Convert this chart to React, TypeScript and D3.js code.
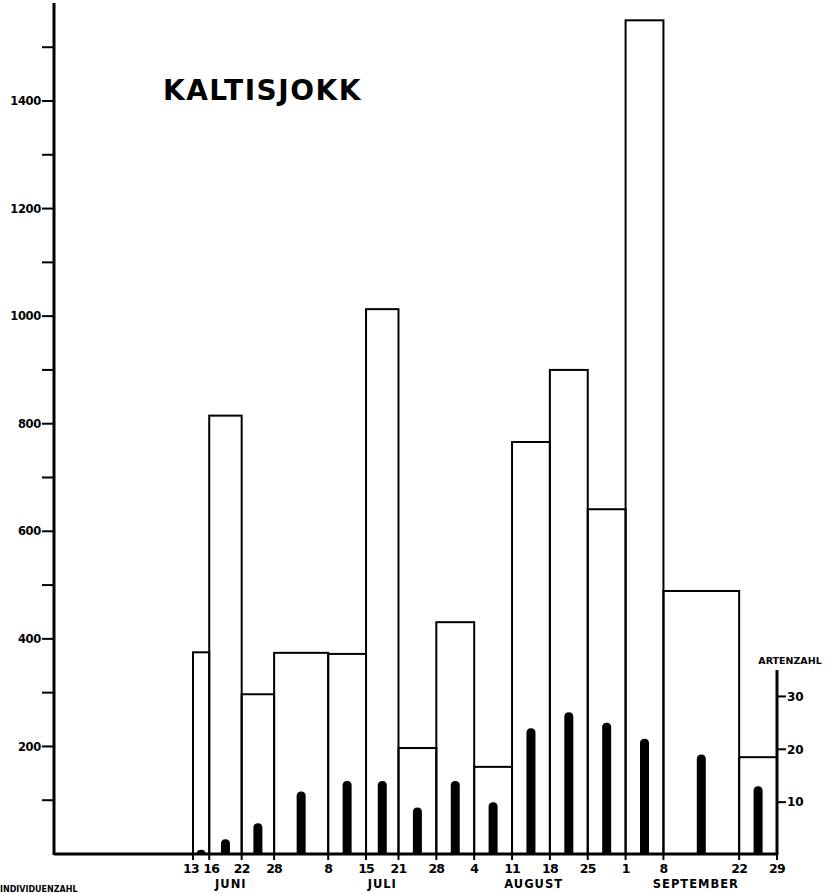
import React from 'react';
import * as d3 from 'd3';

// sampling dates (bar boundaries), year is arbitrary
const boundaries = ["06-13", "06-16", "06-22", "06-28", "07-08", "07-15", "07-21", "07-28",
    "08-04", "08-11", "08-18", "08-25", "09-01", "09-08", "09-22", "09-29"];
const tickLabels = ["13", "16", "22", "28", "8", "15", "21", "28", "4", "11", "18", "25", "1", "8", "22", "29"];
// individuals per period (open bars, left axis)
const individuals = [375, 815, 297, 374, 372, 1013, 197, 431, 162, 766, 900, 641, 1550, 489, 180];
// species per period (black bars, right axis)
const species = [1, 3, 6, 12, 14, 14, 9, 14, 10, 24, 27, 25, 22, 19, 13];
const months = ["JUNI", "JULI", "AUGUST", "SEPTEMBER"];
const monthAnchors = ["06-20", "07-18", "08-15", "09-14"];
const leftTicks = [100, 200, 300, 400, 500, 600, 700, 800, 900, 1000, 1100, 1200, 1300, 1400, 1500];
const rightTicks = [10, 20, 30];

const width = 839;
const height = 893;
const axisX = 54;
const baseY = 854;
const font = '"DejaVu Sans", sans-serif';

const parse = (s: string) => new Date(1960, +s.slice(0, 2) - 1, +s.slice(3, 5));

export default function App() {
    const x = d3.scaleTime()
        .domain([parse(boundaries[0]), parse(boundaries[boundaries.length - 1])])
        .range([193, 777]);
    const y = d3.scaleLinear().domain([0, 1400]).range([baseY, 101]);
    const yTop = 1582;
    const yR = d3.scaleLinear().domain([0, 35]).range([baseY + 1, 670]);
    const rightX = x(parse(boundaries[boundaries.length - 1]));

    const periods = individuals.map((v, i) => ({
        x0: x(parse(boundaries[i])),
        x1: x(parse(boundaries[i + 1])),
        ind: v,
        sp: species[i],
    }));

    const barW = 9;
    // black bar with a rounded top
    const blackPath = (cx: number, top: number) => {
        const r = barW / 2;
        const h = baseY - top;
        const p = d3.path();
        p.moveTo(cx - r, baseY);
        p.lineTo(cx - r, top + Math.min(r, h));
        p.quadraticCurveTo(cx - r, top, cx, top);
        p.quadraticCurveTo(cx + r, top, cx + r, top + Math.min(r, h));
        p.lineTo(cx + r, baseY);
        p.closePath();
        return p.toString();
    };

    return (
        <svg width={width} height={height} style={{position: 'absolute', left: 0, top: 0, background: '#fff'}}
             fontFamily={font}>
            <rect width={width} height={height} fill="#fff"/>

            {/* title */}
            <text x={163} y={100} fontSize={28} fontWeight="bold" letterSpacing={1.5}>KALTISJOKK</text>

            {/* open bars: individuals */}
            {periods.map((d, i) => (
                <rect key={'o' + i} x={d.x0} y={y(d.ind)} width={d.x1 - d.x0} height={baseY - y(d.ind)}
                      fill="none" stroke="#000" strokeWidth={2}/>
            ))}

            {/* black bars: species */}
            {periods.map((d, i) => (
                <path key={'b' + i} d={blackPath((d.x0 + d.x1) / 2, yR(d.sp))} fill="#000"/>
            ))}

            {/* left axis */}
            <line x1={axisX} x2={axisX} y1={baseY + 1} y2={y(yTop)} stroke="#000" strokeWidth={3}/>
            {leftTicks.map(t => (
                <g key={'lt' + t}>
                    <line x1={axisX - 12} x2={axisX} y1={y(t)} y2={y(t)} stroke="#000" strokeWidth={2}/>
                    {t % 200 === 0 &&
                        <text x={axisX - 13} y={y(t)} dy="0.36em" textAnchor="end" fontSize={11.5}
                              fontWeight="bold" letterSpacing={-0.3}>{t}</text>}
                </g>
            ))}

            {/* baseline */}
            <line x1={axisX} x2={rightX} y1={baseY} y2={baseY} stroke="#000" strokeWidth={3}/>

            {/* date ticks */}
            {boundaries.map((b, i) => (
                <g key={'dt' + i}>
                    <line x1={x(parse(b))} x2={x(parse(b))} y1={baseY} y2={baseY + 6} stroke="#000" strokeWidth={2}/>
                    <text x={x(parse(b)) + (i === 0 ? -2 : i === 1 ? 2 : 0)} y={873} textAnchor="middle"
                          fontSize={12.5} fontWeight="bold" letterSpacing={-0.8}>{tickLabels[i]}</text>
                </g>
            ))}
            {months.map((m, i) => (
                <text key={m} x={x(parse(monthAnchors[i]))} y={888} textAnchor="middle" fontSize={11.5}
                      fontWeight="bold" letterSpacing={1}>{m}</text>
            ))}

            {/* right axis: species */}
            <line x1={rightX} x2={rightX} y1={baseY + 1} y2={yR(35)} stroke="#000" strokeWidth={3}/>
            {rightTicks.map(t => (
                <g key={'rt' + t}>
                    <line x1={rightX} x2={rightX + 9} y1={yR(t)} y2={yR(t)} stroke="#000" strokeWidth={2}/>
                    <text x={rightX + 10} y={yR(t)} dy="0.36em" fontSize={12} fontWeight="bold">{t}</text>
                </g>
            ))}
            <text x={790} y={664} textAnchor="middle" fontSize={9.5} fontWeight="bold">ARTENZAHL</text>

            {/* label at the bottom edge */}
            <text x={0} y={892} fontSize={8} fontWeight="bold">INDIVIDUENZAHL</text>
        </svg>
    );
}
